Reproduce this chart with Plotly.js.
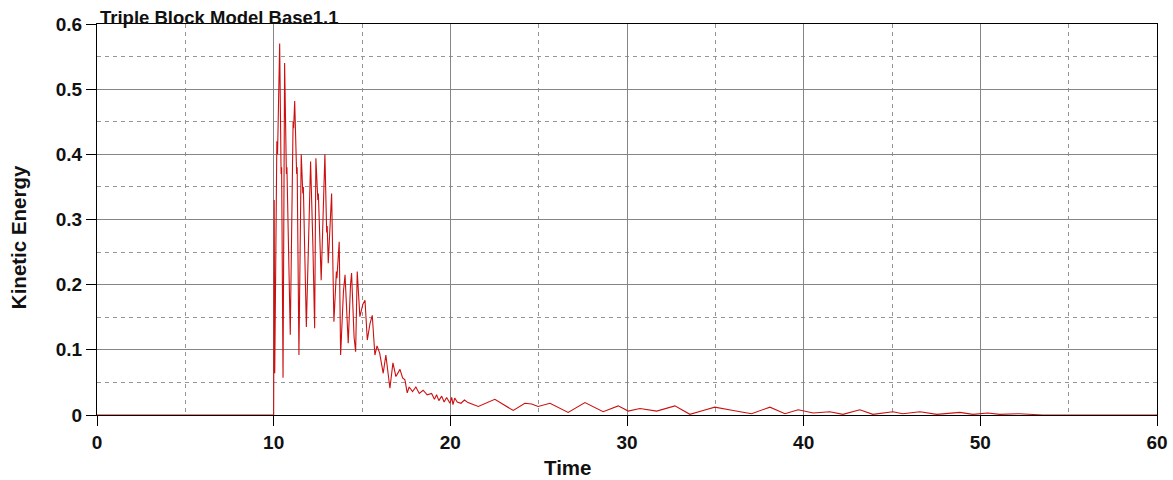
<!DOCTYPE html>
<html>
<head>
<meta charset="utf-8">
<script src="https://cdn.plot.ly/plotly-3.0.1.min.js"></script>
<style>html,body{margin:0;padding:0;background:#fff;}#chart{width:1173px;height:480px;}</style>
</head>
<body>
<div id="chart"></div>
<script>
const chartTitle = "Triple Block Model Base1.1";
const xLabel = "Time";
const yLabel = "Kinetic Energy";

const time = [
  0, 10.00, 10.03, 10.06, 10.18, 10.22, 10.34, 10.42, 10.45, 10.53, 10.62,
  10.72, 10.75, 10.94, 11.10, 11.13, 11.19, 11.30, 11.33, 11.43, 11.56, 11.65,
  11.68, 11.85, 12.00, 12.03, 12.09, 12.22, 12.32, 12.39, 12.50, 12.53, 12.69,
  12.90, 13.00, 13.03, 13.09, 13.28, 13.41, 13.55, 13.58, 13.71, 13.79, 13.95,
  14.04, 14.22, 14.35, 14.41, 14.55, 14.64, 14.73, 14.88, 15.05, 15.17, 15.30,
  15.45, 15.58, 15.73, 15.85, 16.00, 16.20, 16.35, 16.58, 16.75, 16.92, 17.15,
  17.30, 17.43, 17.56, 17.67, 17.86, 18.05, 18.24, 18.46, 18.69, 18.94, 19.10,
  19.22, 19.35, 19.51, 19.65, 19.79, 19.98, 20.08, 20.15, 20.25, 20.39, 20.60,
  20.80, 21.00, 21.58, 22.52, 23.56, 24.22, 24.60, 24.97, 25.64, 26.67, 27.62,
  28.65, 29.50, 30.07, 30.73, 31.68, 32.71, 33.56, 34.31, 34.97, 36.01, 37.05,
  38.09, 38.94, 39.69, 40.54, 41.48, 42.22, 43.18, 43.92, 45.05, 45.61, 46.58,
  47.54, 48.84, 49.58, 50.42, 51.10, 52.20, 53.54, 60.00
];
const kineticEnergy = [
  0, 0, 0.33, 0.064, 0.42, 0.40, 0.57, 0.37, 0.38, 0.057, 0.54,
  0.37, 0.38, 0.123, 0.45, 0.44, 0.482, 0.37, 0.38, 0.092, 0.40, 0.34,
  0.35, 0.135, 0.30, 0.29, 0.389, 0.26, 0.133, 0.394, 0.33, 0.34, 0.207,
  0.40, 0.28, 0.29, 0.233, 0.34, 0.143, 0.22, 0.21, 0.266, 0.092, 0.19,
  0.215, 0.110, 0.20, 0.218, 0.12, 0.097, 0.22, 0.151, 0.17, 0.176, 0.115,
  0.14, 0.153, 0.092, 0.106, 0.095, 0.064, 0.092, 0.041, 0.08, 0.059, 0.07,
  0.057, 0.054, 0.034, 0.043, 0.036, 0.043, 0.033, 0.038, 0.031, 0.033, 0.024,
  0.031, 0.022, 0.029, 0.020, 0.027, 0.018, 0.027, 0.016, 0.026, 0.020, 0.018,
  0.023, 0.019, 0.013, 0.024, 0.007, 0.018, 0.017, 0.013, 0.018, 0.004, 0.019,
  0.005, 0.014, 0.006, 0.010, 0.006, 0.014, 0.001, 0.007, 0.012, 0.007, 0.002,
  0.012, 0.002, 0.008, 0.003, 0.005, 0.001, 0.008, 0.001, 0.005, 0.002, 0.005,
  0.001, 0.004, 0.001, 0.003, 0.001, 0.002, 0.000, 0.000
];

const FONT = "Liberation Sans, Arial, Helvetica, sans-serif";
const tickFont = {family: FONT, size: 19, weight: 700, color: "#111"};
const labelFont = {family: FONT, size: 20.5, weight: 700, color: "#111"};

const trace = {
  x: time, y: kineticEnergy, type: "scatter", mode: "lines",
  line: {color: "#cc1010", width: 1.1}, hoverinfo: "skip"
};

const axisCommon = {
  showline: true, linecolor: "#000", linewidth: 1, mirror: true,
  ticks: "outside", ticklen: 10, tickcolor: "#000", tickwidth: 1,
  showgrid: true, gridcolor: "#858585", gridwidth: 1,
  zeroline: false, tickfont: tickFont, fixedrange: true
};

const layout = {
  width: 1173, height: 480,
  margin: {l: 97, r: 16, t: 24, b: 65},
  paper_bgcolor: "#fff", plot_bgcolor: "#fff",
  showlegend: false,
  title: {text: chartTitle, font: {family: FONT, size: 18.5, weight: 700, color: "#111"},
          x: 0, xref: "paper", xanchor: "left", y: 1, yref: "paper", yanchor: "bottom", pad: {b: 0, l: 3}},
  xaxis: Object.assign({}, axisCommon, {
    range: [0, 60], tick0: 0, dtick: 10,
    minor: {dtick: 5, showgrid: true, gridcolor: "#959595", gridwidth: 1, griddash: "4px,4px", ticks: ""}
  }),
  yaxis: Object.assign({}, axisCommon, {
    range: [0, 0.6], tick0: 0, dtick: 0.1,
    minor: {dtick: 0.05, showgrid: true, gridcolor: "#959595", gridwidth: 1, griddash: "4px,4px", ticks: ""}
  }),
  annotations: [
    {text: xLabel, xref: "paper", yref: "paper", x: 0.4434, y: -0.133,
     xanchor: "center", yanchor: "middle", showarrow: false, font: labelFont},
    {text: yLabel, xref: "paper", yref: "paper", x: -0.0745, y: 0.455, textangle: -90,
     xanchor: "center", yanchor: "middle", showarrow: false, font: labelFont}
  ]
};

Plotly.newPlot("chart", [trace], layout, {displayModeBar: false, staticPlot: true});
</script>
</body>
</html>
